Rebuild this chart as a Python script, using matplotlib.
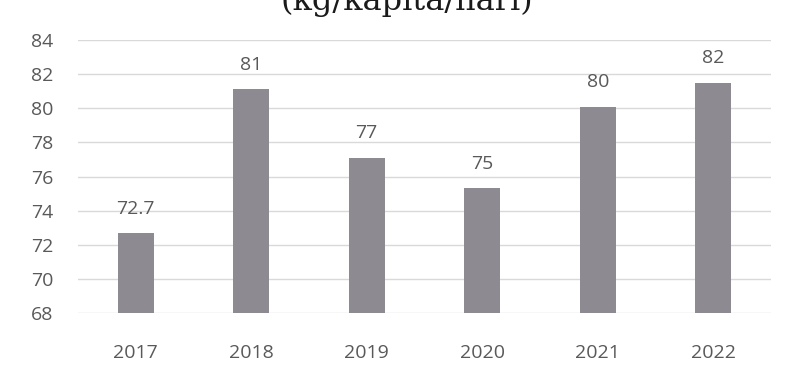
import matplotlib.pyplot as plt

# ── Data ───────────────────────────────────────────────────────────────
years = ["2017", "2018", "2019", "2020", "2021", "2022"]
values = [72.7, 81.1, 77.1, 75.3, 80.1, 81.5]          # bar heights as drawn
value_labels = ["72.7", "81", "77", "75", "80", "82"]    # labels as printed
yticks = [68, 70, 72, 74, 76, 78, 80, 82, 84]

# ── Style ──────────────────────────────────────────────────────────────
plt.rcParams["font.family"] = ["Open Sans", "DejaVu Sans"]
text_color = "#595959"
bar_color = "#8d8a91"
grid_color = "#d9d9d9"

fig = plt.figure(figsize=(7.9, 3.68), dpi=100)
ax = fig.add_axes([78 / 790, 1 - 313 / 368, (771 - 78) / 790, (313 - 40) / 368])

x = range(len(years))
bars = ax.bar(x, values, width=0.31, color=bar_color, zorder=2)

for rect, lab in zip(bars, value_labels):
    ax.annotate(lab, (rect.get_x() + rect.get_width() / 2, rect.get_height()),
                xytext=(0, 11), textcoords="offset points",
                ha="center", va="bottom", fontsize=14, color=text_color)

ax.set_ylim(68, 84)
ax.set_xlim(-0.5, len(years) - 0.5)
ax.set_yticks(yticks)
ax.set_xticks(list(x))
ax.set_xticklabels(years)
ax.tick_params(axis="both", length=0, labelsize=14, labelcolor=text_color)
ax.tick_params(axis="y", pad=18)
ax.tick_params(axis="x", pad=22)
ax.grid(axis="y", color=grid_color, linewidth=1, zorder=0)
for s in ax.spines.values():
    s.set_visible(False)

# title, cut off at the top edge like in the scan
fig.text(407 / 790, 1 - 10 / 368, "(kg/kapita/hari)", ha="center", va="baseline",
         fontsize=23, family="DejaVu Serif", color="#1a1a1a")

fig.savefig("out.png", dpi=100)
